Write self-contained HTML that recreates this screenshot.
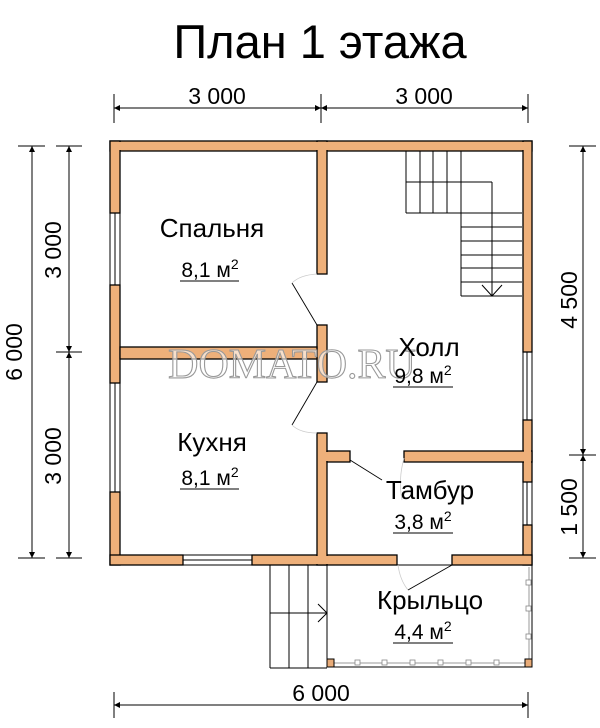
<!DOCTYPE html>
<html><head><meta charset="utf-8"><style>
html,body{margin:0;padding:0;background:#fff;}
svg{display:block;}
</style></head><body>
<svg width="600" height="728" viewBox="0 0 600 728" xmlns="http://www.w3.org/2000/svg" font-family="Liberation Sans, DejaVu Sans, sans-serif">
<defs>
<marker id="a" viewBox="0 0 10 10" refX="10" refY="5" markerWidth="8" markerHeight="6" orient="auto-start-reverse" markerUnits="userSpaceOnUse"><path d="M0,0 L10,5 L0,10 z" fill="#000"/></marker>
</defs>
<text x="320" y="58" font-size="47" text-anchor="middle">План 1 этажа</text>

<g stroke="#000" stroke-width="1">
<line x1="114" y1="94" x2="114" y2="123"/><line x1="321" y1="94" x2="321" y2="123"/><line x1="528" y1="94" x2="528" y2="123"/>
<line x1="114" y1="108" x2="321" y2="108" marker-start="url(#a)" marker-end="url(#a)"/>
<line x1="321" y1="108" x2="528" y2="108" marker-start="url(#a)" marker-end="url(#a)"/>
<line x1="114" y1="692" x2="114" y2="718"/><line x1="528" y1="692" x2="528" y2="718"/>
<line x1="114" y1="705" x2="528" y2="705" marker-start="url(#a)" marker-end="url(#a)"/>
<line x1="18" y1="146" x2="45" y2="146"/><line x1="18" y1="558" x2="45" y2="558"/>
<line x1="32" y1="146" x2="32" y2="558" marker-start="url(#a)" marker-end="url(#a)"/>
<line x1="56" y1="146" x2="82" y2="146"/><line x1="56" y1="352" x2="82" y2="352"/><line x1="56" y1="558" x2="82" y2="558"/>
<line x1="69" y1="146" x2="69" y2="352" marker-start="url(#a)" marker-end="url(#a)"/>
<line x1="69" y1="352" x2="69" y2="558" marker-start="url(#a)" marker-end="url(#a)"/>
<line x1="569" y1="146" x2="596" y2="146"/><line x1="569" y1="455" x2="596" y2="455"/><line x1="569" y1="558" x2="596" y2="558"/>
<line x1="583" y1="146" x2="583" y2="455" marker-start="url(#a)" marker-end="url(#a)"/>
<line x1="583" y1="455" x2="583" y2="558" marker-start="url(#a)" marker-end="url(#a)"/>
</g>
<g font-size="23">
<text x="217" y="104" text-anchor="middle">3 000</text>
<text x="424" y="104" text-anchor="middle">3 000</text>
<text x="321" y="701" text-anchor="middle">6 000</text>
<text transform="translate(22,352) rotate(-90)" text-anchor="middle">6 000</text>
<text transform="translate(61,250) rotate(-90)" text-anchor="middle">3 000</text>
<text transform="translate(61,456) rotate(-90)" text-anchor="middle">3 000</text>
<text transform="translate(577,300) rotate(-90)" text-anchor="middle">4 500</text>
<text transform="translate(577,507) rotate(-90)" text-anchor="middle">1 500</text>
</g>

<g stroke="#000" stroke-width="1" fill="none">
<rect x="327" y="565" width="205" height="102"/>
<line x1="329" y1="663" x2="530" y2="663" stroke="#999"/>
<line x1="529" y1="567" x2="529" y2="665" stroke="#999"/>
<line x1="270" y1="565" x2="270" y2="668"/><line x1="289" y1="565" x2="289" y2="668"/><line x1="308" y1="565" x2="308" y2="668"/>
<line x1="270" y1="668" x2="327" y2="668"/><line x1="270" y1="613" x2="327" y2="613"/>
<polyline points="318,604 327,613 318,622"/>
</g>
<g fill="#fff" stroke="#888" stroke-width="0.8">
<rect x="355" y="660" width="5" height="5"/><rect x="382" y="660" width="5" height="5"/><rect x="410" y="660" width="5" height="5"/><rect x="438" y="660" width="5" height="5"/><rect x="466" y="660" width="5" height="5"/><rect x="494" y="660" width="5" height="5"/>
<rect x="526" y="580" width="5" height="5"/><rect x="526" y="606" width="5" height="5"/><rect x="526" y="634" width="5" height="5"/>
</g>
<rect x="327" y="659" width="7" height="8" fill="#e8ab78" stroke="#000"/>
<rect x="525" y="659" width="7" height="8" fill="#e8ab78" stroke="#000"/>

<g stroke="#000" stroke-width="1" fill="none">
<line x1="406" y1="151" x2="406" y2="213"/><line x1="420" y1="151" x2="420" y2="213"/><line x1="433" y1="151" x2="433" y2="213"/><line x1="447" y1="151" x2="447" y2="213"/>
<line x1="461" y1="151" x2="461" y2="296"/>
<line x1="406" y1="182" x2="492" y2="182"/><line x1="492" y1="182" x2="492" y2="296"/>
<line x1="406" y1="213" x2="461" y2="213"/>
<line x1="461" y1="213" x2="522" y2="213"/><line x1="461" y1="227" x2="522" y2="227"/><line x1="461" y1="241" x2="522" y2="241"/><line x1="461" y1="255" x2="522" y2="255"/><line x1="461" y1="268" x2="522" y2="268"/><line x1="461" y1="282" x2="522" y2="282"/><line x1="461" y1="296" x2="522" y2="296"/>
<polyline points="482,285 492,296 502,285"/>
</g>

<g stroke="#000" stroke-width="1" fill="#fff">
<rect x="110" y="213" width="10" height="72"/><line x1="115" y1="213" x2="115" y2="285"/>
<rect x="110" y="383" width="10" height="109"/><line x1="115" y1="383" x2="115" y2="492"/>
<rect x="523" y="352" width="9" height="68"/><line x1="527" y1="352" x2="527" y2="420"/>
<rect x="523" y="482" width="9" height="43"/><line x1="527" y1="482" x2="527" y2="525"/>
<rect x="183" y="555" width="69" height="10"/><line x1="183" y1="560" x2="252" y2="560"/>
</g>

<g fill="#eeb07a" stroke="#000" stroke-width="1.3">
<rect x="110" y="141" width="422" height="10"/>
<rect x="110" y="141" width="10" height="72"/>
<rect x="110" y="285" width="10" height="98"/>
<rect x="110" y="492" width="10" height="73"/>
<rect x="523" y="141" width="9" height="211"/>
<rect x="523" y="420" width="9" height="62"/>
<rect x="523" y="525" width="9" height="40"/>
<rect x="110" y="555" width="73" height="10"/>
<rect x="252" y="555" width="145" height="10"/>
<rect x="452" y="555" width="80" height="10"/>
<rect x="317" y="141" width="10" height="133"/>
<rect x="317" y="325" width="10" height="57"/>
<rect x="317" y="433" width="10" height="132"/>
<rect x="120" y="347" width="197" height="12"/>
<rect x="327" y="451" width="23" height="11"/>
<rect x="404" y="451" width="128" height="11"/>
</g>
<g fill="#eeb07a" stroke="none">
<rect x="111" y="142" width="420" height="8"/>
<rect x="111" y="142" width="8" height="70"/>
<rect x="524" y="142" width="7" height="209"/>
<rect x="318" y="142" width="8" height="9"/>
<rect x="111" y="556" width="71" height="8"/>
<rect x="253" y="556" width="143" height="8"/>
<rect x="453" y="556" width="78" height="8"/>
<rect x="318" y="434" width="8" height="130"/>
<rect x="318" y="452" width="31" height="9"/>
<rect x="405" y="452" width="125" height="9"/>
<rect x="524" y="421" width="7" height="60"/>
<rect x="111" y="348" width="8" height="10"/>
</g>

<g stroke="#000" stroke-width="0.9" fill="none">
<line x1="292" y1="283" x2="317" y2="325"/>
<line x1="317" y1="382" x2="292" y2="425"/>
<line x1="350" y1="460" x2="382" y2="480"/>
<line x1="452" y1="565" x2="408" y2="590"/>
</g>
<g stroke="#ccc" stroke-width="0.8" fill="none">
<path d="M292,283 Q300,275 317,274"/>
<path d="M292,425 Q300,433 317,433"/>
<path d="M404,458 Q398,480 402,500"/>
<path d="M398,565 Q400,580 408,590"/>
</g>

<text x="292" y="378" style="font-family:'Liberation Serif',serif;font-size:42px;fill:#fff;fill-opacity:0.6;stroke:#999;stroke-width:1.1px" text-anchor="middle">DOMATO.RU</text>

<g font-size="26" text-anchor="middle">
<text x="212" y="237">Спальня</text>
<text x="429" y="356">Холл</text>
<text x="212" y="451">Кухня</text>
<text x="430" y="499">Тамбур</text>
<text x="430" y="609">Крыльцо</text>
</g>
<g font-size="21" text-anchor="middle">
<text x="210" y="277">8,1 м<tspan font-size="14" dy="-8">2</tspan></text>
<text x="423" y="383">9,8 м<tspan font-size="14" dy="-8">2</tspan></text>
<text x="210" y="485">8,1 м<tspan font-size="14" dy="-8">2</tspan></text>
<text x="423" y="529">3,8 м<tspan font-size="14" dy="-8">2</tspan></text>
<text x="423" y="639">4,4 м<tspan font-size="14" dy="-8">2</tspan></text>
</g>
<g stroke="#000" stroke-width="1">
<line x1="180" y1="281" x2="239" y2="281"/>
<line x1="393" y1="387" x2="453" y2="387"/>
<line x1="180" y1="489" x2="239" y2="489"/>
<line x1="393" y1="533" x2="453" y2="533"/>
<line x1="393" y1="643" x2="453" y2="643"/>
</g>
</svg>
</body></html>
